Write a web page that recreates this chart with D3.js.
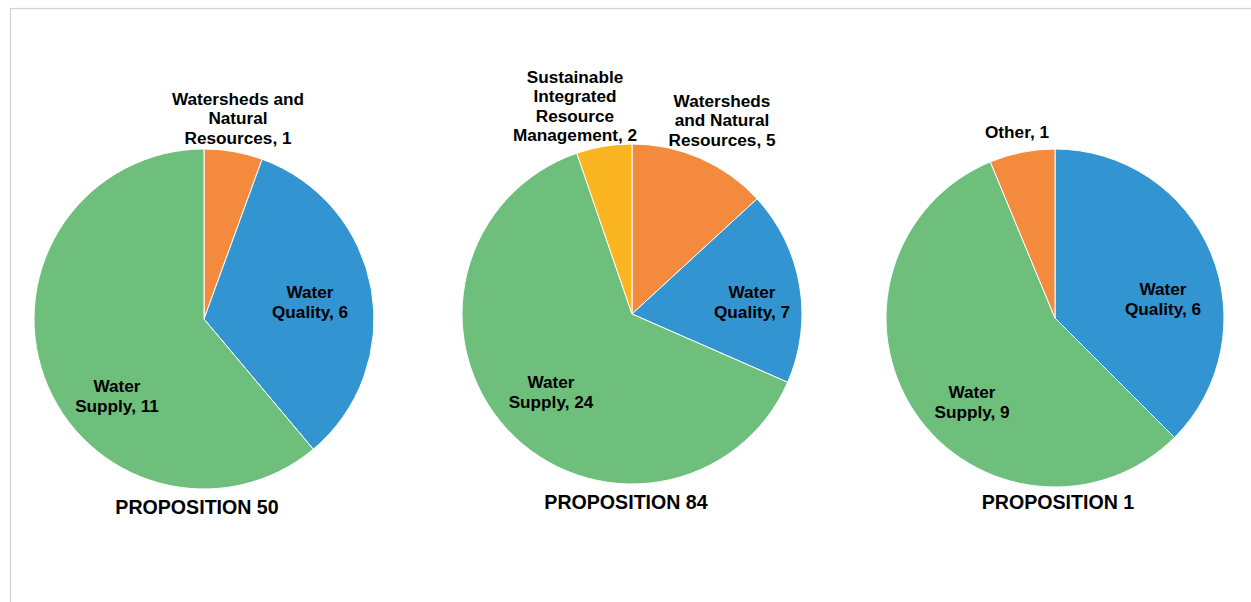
<!DOCTYPE html>
<html><head><meta charset="utf-8">
<script src="https://cdn.jsdelivr.net/npm/d3@7"></script>
<style>body{margin:0;background:#fff}svg{display:block}text{font-family:"Liberation Sans",Arial,sans-serif;font-weight:bold;fill:#000}</style>
</head><body><svg id="c" width="1251" height="602"></svg>
<script>
// Data
const titles = ["PROPOSITION 50", "PROPOSITION 84", "PROPOSITION 1"];
const prop50Categories = ["Watersheds and Natural Resources", "Water Quality", "Water Supply"];
const prop50Values = [1, 6, 11];
const prop84Categories = ["Watersheds and Natural Resources", "Water Quality", "Water Supply", "Sustainable Integrated Resource Management"];
const prop84Values = [5, 7, 24, 2];
const prop1Categories = ["Water Quality", "Water Supply", "Other"];
const prop1Values = [6, 9, 1];
const prop50Labels = [["Watersheds and","Natural","Resources, 1"],["Water","Quality, 6"],["Water","Supply, 11"]];
const prop84Labels = [["Watersheds","and Natural","Resources, 5"],["Water","Quality, 7"],["Water","Supply, 24"],["Sustainable","Integrated","Resource","Management, 2"]];
const prop1Labels = [["Water","Quality, 6"],["Water","Supply, 9"],["Other, 1"]];

const colorMap = {
  "Watersheds and Natural Resources": "#f38a3e",
  "Water Quality": "#3394d2",
  "Water Supply": "#6ebf7c",
  "Sustainable Integrated Resource Management": "#fbb520",
  "Other": "#f38a3e"
};

// Layout (not data)
const layout = [
  {cx: 204, cy: 319, r: 170, labelOff: [[34,-201],[106,-17],[-87,77]], titleOff: [-7,188]},
  {cx: 632, cy: 314, r: 170, labelOff: [[90,-194],[120,-12],[-81,78],[-57,-208]], titleOff: [-6,188]},
  {cx: 1055, cy: 318, r: 169, labelOff: [[108,-19],[-83,84],[-38,-186]], titleOff: [3,184]}
];
const charts = [
  {cats: prop50Categories, vals: prop50Values, labels: prop50Labels},
  {cats: prop84Categories, vals: prop84Values, labels: prop84Labels},
  {cats: prop1Categories, vals: prop1Values, labels: prop1Labels}
];

const svg = d3.select("#c");
svg.append("rect").attr("x",10.5).attr("y",8.5).attr("width",1300).attr("height",700)
  .attr("fill","none").attr("stroke","#d0d0d0").attr("stroke-width",1.2);

const pie = d3.pie().sort(null).value(d => d);
const lh = 19.5;

charts.forEach((c, i) => {
  const L = layout[i];
  const g = svg.append("g").attr("transform", `translate(${L.cx},${L.cy})`);
  const arc = d3.arc().innerRadius(0).outerRadius(L.r);
  g.selectAll("path").data(pie(c.vals)).join("path")
    .attr("d", arc)
    .attr("fill", (d, j) => colorMap[c.cats[j]])
    .attr("stroke", "#fff").attr("stroke-width", 1);
  c.labels.forEach((lines, j) => {
    const [dx, dy] = L.labelOff[j];
    const t = g.append("text").attr("text-anchor","middle").attr("font-size",17.2);
    const y0 = dy - (lines.length - 1) * lh / 2;
    lines.forEach((ln, k) => {
      t.append("tspan").attr("x", dx).attr("y", y0 + k * lh).attr("dy","0.35em").text(ln);
    });
  });
  g.append("text").attr("text-anchor","middle").attr("font-size",19.6)
    .attr("x", L.titleOff[0]).attr("y", L.titleOff[1]).attr("dy","0.35em").text(titles[i]);
});
</script></body></html>
